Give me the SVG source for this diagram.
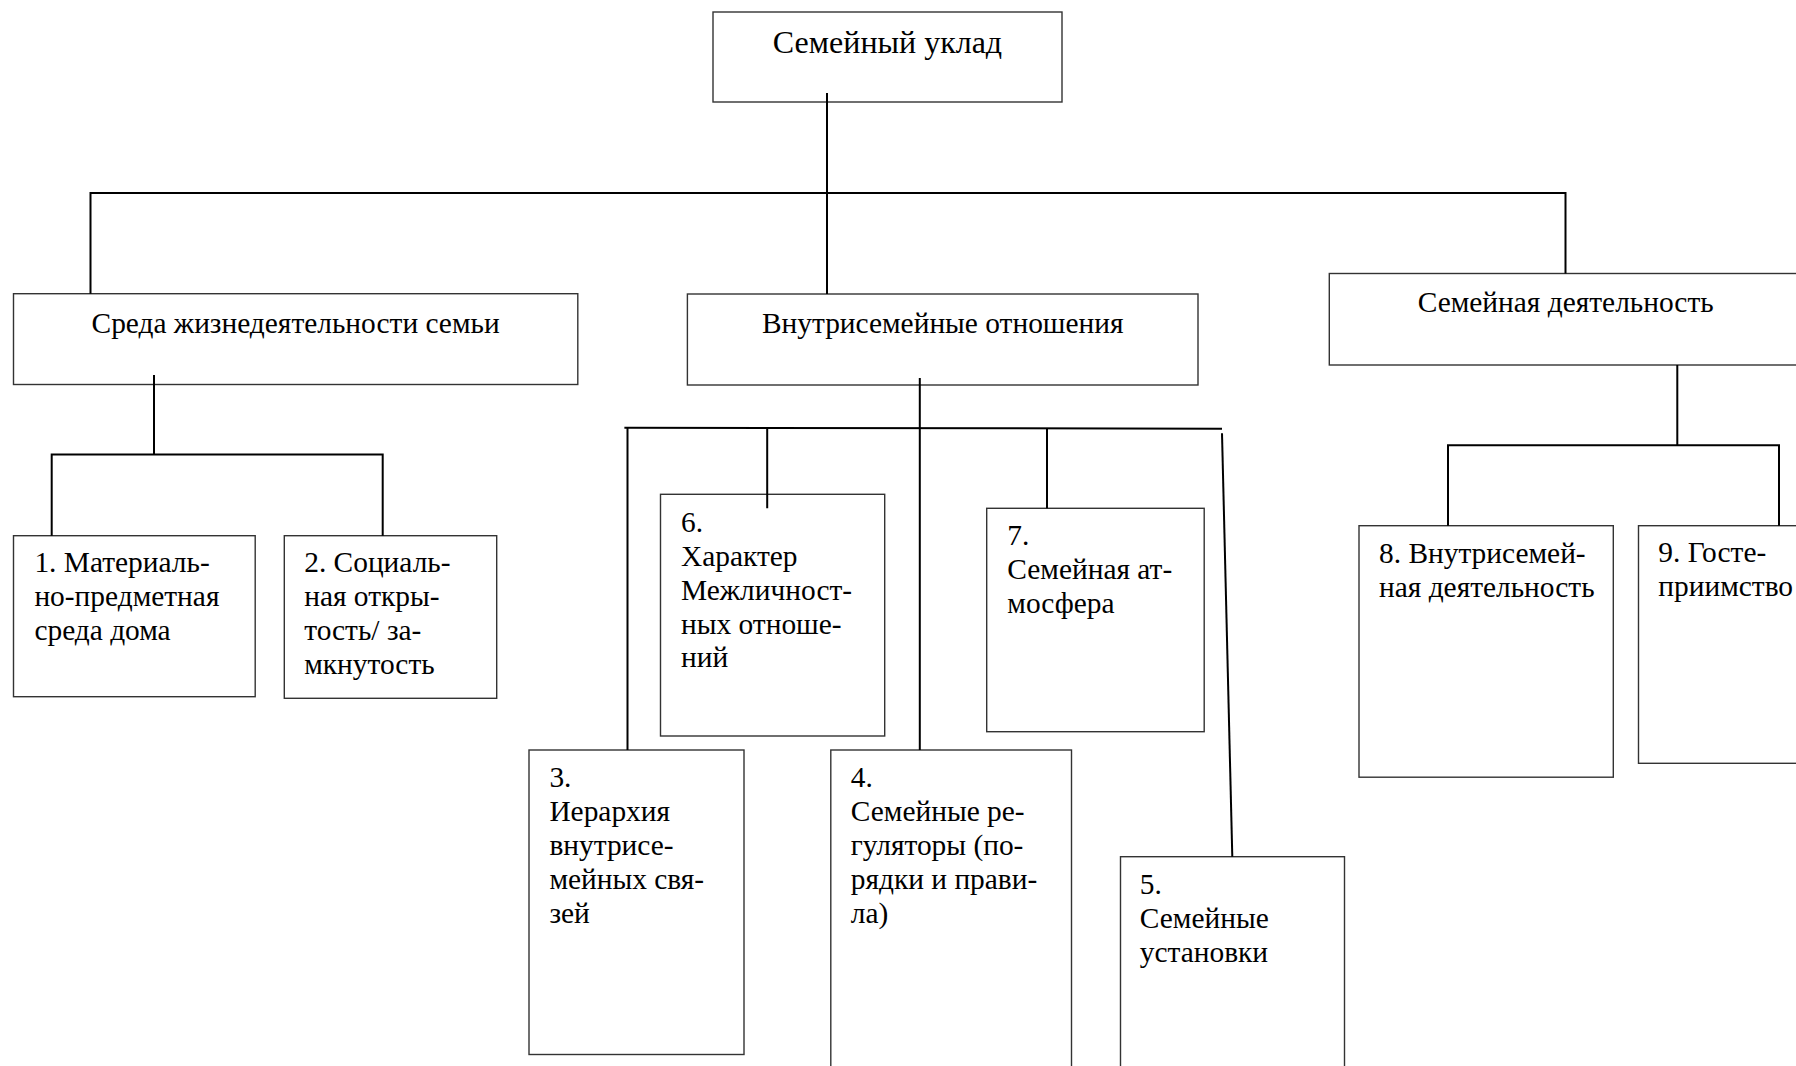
<svg xmlns="http://www.w3.org/2000/svg" width="1796" height="1066" viewBox="0 0 1796 1066">
<style>
.box{fill:#fff;stroke:#333;stroke-width:1.4}
.ln{fill:none;stroke:#000;stroke-width:2}
text{font-family:"Liberation Serif","Times New Roman",serif;font-size:29.4px;fill:#000}
.c{text-anchor:middle}
.t{font-size:32px}
</style>
<rect x="0" y="0" width="1796" height="1066" fill="#fff"/>
<g id="n-root"><rect class="box" x="713" y="12" width="349" height="90"/><text class="c t" x="887.5" y="53">Семейный уклад</text></g>
<g id="n-sreda"><rect class="box" x="13.5" y="293.7" width="564.3" height="90.8"/><text class="c" x="295.6" y="332.7">Среда жизнедеятельности семьи</text></g>
<g id="n-otn"><rect class="box" x="687.4" y="294" width="510.6" height="91"/><text class="c" x="942.7" y="332.7">Внутрисемейные отношения</text></g>
<g id="n-deyat"><rect class="box" x="1329.3" y="273.5" width="472.7" height="91.5"/><text class="c" x="1565.7" y="312.3">Семейная деятельность</text></g>
<g id="n1"><rect class="box" x="13.5" y="535.7" width="241.7" height="161"/><text x="34.4" y="572">1. Материаль-<tspan x="34.4" y="606">но-предметная</tspan><tspan x="34.4" y="640">среда дома</tspan></text></g>
<g id="n2"><rect class="box" x="284.3" y="535.7" width="212.4" height="162.6"/><text x="304.2" y="572">2. Социаль-<tspan x="304.2" y="606">ная откры-</tspan><tspan x="304.2" y="640">тость/ за-</tspan><tspan x="304.2" y="674">мкнутость</tspan></text></g>
<g id="n6"><rect class="box" x="660.5" y="494.3" width="224.2" height="241.7"/><text x="681" y="532">6.<tspan x="681" y="566">Характер</tspan><tspan x="681" y="600">Межличност-</tspan><tspan x="681" y="633.5">ных отноше-</tspan><tspan x="681" y="667">ний</tspan></text></g>
<g id="n7"><rect class="box" x="986.7" y="508.3" width="217.5" height="223.4"/><text x="1007.3" y="545">7.<tspan x="1007.3" y="579">Семейная ат-</tspan><tspan x="1007.3" y="613">мосфера</tspan></text></g>
<g id="n3"><rect class="box" x="529" y="750" width="215" height="304.5"/><text x="549.4" y="787">3.<tspan x="549.4" y="821">Иерархия</tspan><tspan x="549.4" y="855">внутрисе-</tspan><tspan x="549.4" y="889">мейных свя-</tspan><tspan x="549.4" y="923">зей</tspan></text></g>
<g id="n4"><rect class="box" x="830.8" y="750" width="240.7" height="330"/><text x="850.8" y="787">4.<tspan x="850.8" y="821">Семейные ре-</tspan><tspan x="850.8" y="855">гуляторы (по-</tspan><tspan x="850.8" y="889">рядки и прави-</tspan><tspan x="850.8" y="923">ла)</tspan></text></g>
<g id="n5"><rect class="box" x="1120.5" y="856.7" width="224" height="230"/><text x="1139.8" y="894">5.<tspan x="1139.8" y="928">Семейные</tspan><tspan x="1139.8" y="962">установки</tspan></text></g>
<g id="n8"><rect class="box" x="1359" y="525.7" width="254.3" height="251.5"/><text x="1379" y="563">8. Внутрисемей-<tspan x="1379" y="596.7">ная деятельность</tspan></text></g>
<g id="n9"><rect class="box" x="1638.5" y="525.7" width="260" height="237.6"/><text x="1658.3" y="562">9. Госте-<tspan x="1658.3" y="595.5">приимство</tspan></text></g>
<g id="connectors">
<path class="ln" d="M827 93V294"/>
<path class="ln" d="M90.5 193H1565.5M90.5 192V293.7M1565.5 192V273.5"/>
<path class="ln" d="M154 375V454.5M51.7 535.7V454.5H382.7V535.7"/>
<path class="ln" d="M919.8 378V750"/>
<path class="ln" d="M624.4 427.7L1222 428.7"/>
<path class="ln" d="M627.5 428V750M767.2 428V508.3M1047 428V508.3"/>
<path class="ln" d="M1222 433.3L1232.3 856.7"/>
<path class="ln" d="M1677.3 365V445.3M1448 525.7V445.3H1779V525.7"/>
</g>
</svg>
